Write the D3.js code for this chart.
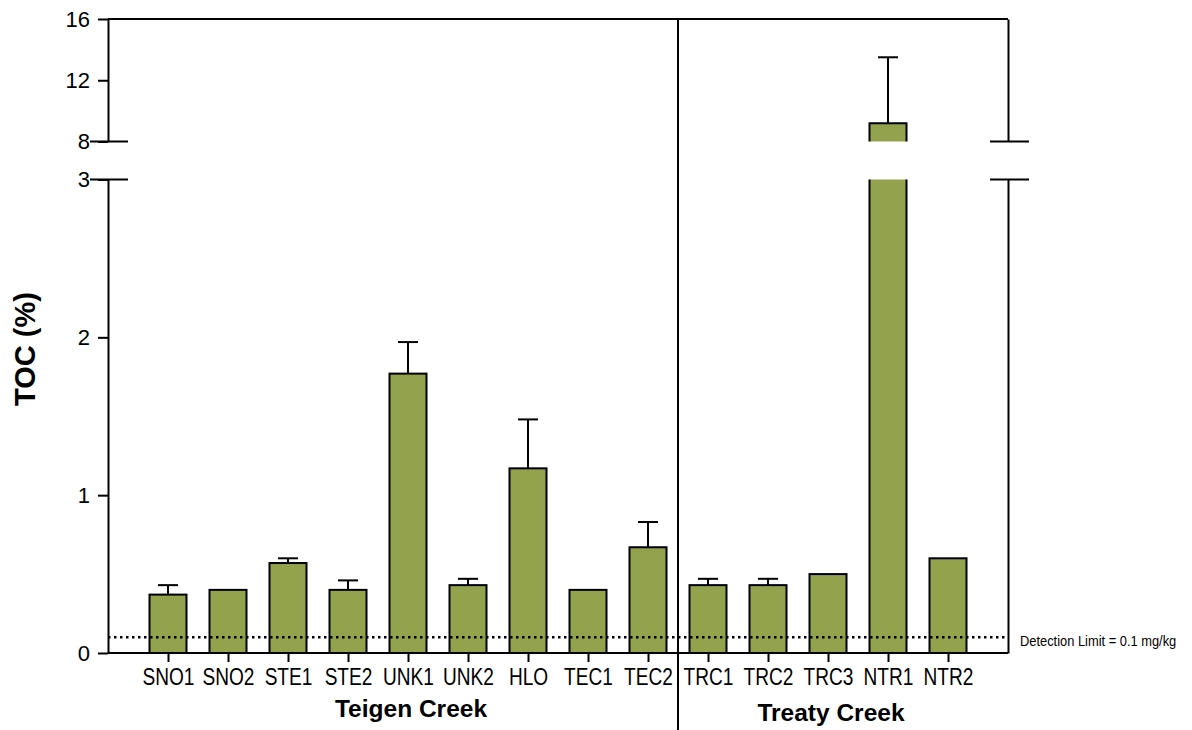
<!DOCTYPE html>
<html>
<head>
<meta charset="utf-8">
<script src="https://cdn.jsdelivr.net/npm/d3@7/dist/d3.min.js"></script>
<style>
  html, body { margin: 0; padding: 0; background: #fff; }
  svg { display: block; }
  text { font-family: "Liberation Sans", Arial, sans-serif; fill: #000; }
</style>
</head>
<body>
<svg id="chart" width="1192" height="730"></svg>
<script>
// Sampling sites, mean TOC (%) and standard deviation
const sites = ["SNO1","SNO2","STE1","STE2","UNK1","UNK2","HLO","TEC1","TEC2","TRC1","TRC2","TRC3","NTR1","NTR2"];
const tocMean = [0.37, 0.40, 0.57, 0.40, 1.77, 0.43, 1.17, 0.40, 0.67, 0.43, 0.43, 0.50, 9.2, 0.60];
const tocSD   = [0.06, 0, 0.03, 0.06, 0.20, 0.04, 0.31, 0, 0.16, 0.04, 0.04, 0, 4.3, 0];

// Watershed groups
const groups = ["Teigen Creek", "Treaty Creek"];
const groupSites = [
  ["SNO1","SNO2","STE1","STE2","UNK1","UNK2","HLO","TEC1","TEC2"],
  ["TRC1","TRC2","TRC3","NTR1","NTR2"]
];

// Broken y axis: lower and upper segments
const lowTicks = [0, 1, 2, 3];
const highTicks = [8, 12, 16];
const detectionLimit = 0.1;
const detectionLabel = "Detection Limit = 0.1 mg/kg";
const yTitle = "TOC (%)";

const svg = d3.select("#chart");
const left = 108, right = 1008;
const barW = 37;
const barColor = "#93a24c";

const x = d3.scalePoint().domain(sites).range([left, right]).padding(1);
const yLow = d3.scaleLinear().domain([0, 3]).range([653, 179.5]);
const yHigh = d3.scaleLinear().domain([8, 16]).range([141.5, 19]);
const breakLow = 3, breakHigh = 8;

const data = sites.map((s, i) => ({ site: s, mean: tocMean[i], sd: tocSD[i] }));

// Bars
const gBars = svg.append("g");
data.forEach(d => {
  const x0 = x(d.site) - barW / 2, x1 = x(d.site) + barW / 2;
  if (d.mean <= breakLow) {
    gBars.append("rect")
      .attr("x", x0).attr("y", yLow(d.mean))
      .attr("width", barW).attr("height", yLow(0) - yLow(d.mean))
      .attr("fill", barColor).attr("stroke", "#000").attr("stroke-width", 2);
  } else {
    // lower part up to the axis break
    gBars.append("rect")
      .attr("x", x0).attr("y", yLow(breakLow))
      .attr("width", barW).attr("height", yLow(0) - yLow(breakLow))
      .attr("fill", barColor);
    gBars.append("path")
      .attr("d", `M${x0},${yLow(breakLow)}V${yLow(0)}H${x1}V${yLow(breakLow)}`)
      .attr("fill", "none").attr("stroke", "#000").attr("stroke-width", 2);
    // upper part above the axis break
    gBars.append("rect")
      .attr("x", x0).attr("y", yHigh(d.mean))
      .attr("width", barW).attr("height", yHigh(breakHigh) - yHigh(d.mean))
      .attr("fill", barColor);
    gBars.append("path")
      .attr("d", `M${x0},${yHigh(breakHigh)}V${yHigh(d.mean)}H${x1}V${yHigh(breakHigh)}`)
      .attr("fill", "none").attr("stroke", "#000").attr("stroke-width", 2);
  }
});

// Error bars (upper only)
const yAny = v => v <= breakLow ? yLow(v) : yHigh(v);
const gErr = svg.append("g").attr("stroke", "#000").attr("stroke-width", 2);
data.filter(d => d.sd > 0).forEach(d => {
  const cx = x(d.site);
  const top = yAny(d.mean + d.sd);
  gErr.append("line").attr("x1", cx).attr("x2", cx).attr("y1", yAny(d.mean)).attr("y2", top);
  gErr.append("line").attr("x1", cx - 10).attr("x2", cx + 10).attr("y1", top).attr("y2", top);
});

// Detection limit
svg.append("line")
  .attr("x1", left).attr("x2", right)
  .attr("y1", yLow(detectionLimit)).attr("y2", yLow(detectionLimit))
  .attr("stroke", "#000").attr("stroke-width", 2.5).attr("stroke-dasharray", "2.5,3.5");
svg.append("text")
  .attr("transform", `translate(1020,${yLow(detectionLimit) + 9}) scale(0.92,1)`)
  .attr("font-size", 14)
  .text(detectionLabel);

// Y axes (left)
function styleAxis(g) {
  g.selectAll("path, line").attr("stroke", "#000").attr("stroke-width", 2);
  g.selectAll("text").attr("font-size", 22).attr("font-family", "Liberation Sans, Arial, sans-serif").attr("fill", "#000");
}
svg.append("g").attr("transform", `translate(${left},0)`)
  .call(d3.axisLeft(yLow).tickValues(lowTicks).tickFormat(d3.format("d")).tickSize(10).tickSizeOuter(0).tickPadding(8))
  .call(styleAxis);
svg.append("g").attr("transform", `translate(${left},0)`)
  .call(d3.axisLeft(yHigh).tickValues(highTicks).tickFormat(d3.format("d")).tickSize(10).tickSizeOuter(0).tickPadding(8))
  .call(styleAxis);

// Right frame segments
svg.append("g").attr("transform", `translate(${right},0)`)
  .call(d3.axisRight(yLow).tickValues([]).tickSizeOuter(0))
  .call(styleAxis);
svg.append("g").attr("transform", `translate(${right},0)`)
  .call(d3.axisRight(yHigh).tickValues([]).tickSizeOuter(0))
  .call(styleAxis);

// Break marks on both sides
const gBreak = svg.append("g").attr("stroke", "#000").attr("stroke-width", 2);
[yLow(breakLow), yHigh(breakHigh)].forEach(yy => {
  gBreak.append("line").attr("x1", left - 18).attr("x2", left + 20).attr("y1", yy).attr("y2", yy);
  gBreak.append("line").attr("x1", right - 18).attr("x2", right + 21).attr("y1", yy).attr("y2", yy);
});

// Top frame line
svg.append("line").attr("x1", left).attr("x2", right)
  .attr("y1", yHigh(16)).attr("y2", yHigh(16))
  .attr("stroke", "#000").attr("stroke-width", 2);

// X axis
const gx = svg.append("g").attr("transform", `translate(0,${yLow(0)})`)
  .call(d3.axisBottom(x).tickSize(9).tickSizeOuter(0));
gx.select(".domain").attr("d", `M${left},0H${right}`);
gx.selectAll("path, line").attr("stroke", "#000").attr("stroke-width", 2);
gx.selectAll("text").remove();
gx.selectAll(".tick").append("text")
  .attr("transform", "translate(0,32) scale(0.83,1)")
  .attr("text-anchor", "middle")
  .attr("font-size", 23)
  .text(d => d);

// Group separator
const sepX = (x(groupSites[0][groupSites[0].length - 1]) + x(groupSites[1][0])) / 2;
svg.append("line").attr("x1", sepX).attr("x2", sepX).attr("y1", yHigh(16)).attr("y2", 730)
  .attr("stroke", "#000").attr("stroke-width", 2);

// Group labels
const groupY = [717, 721];
groups.forEach((gname, i) => {
  const xs = groupSites[i].map(s => x(s));
  svg.append("text")
    .attr("x", (d3.min(xs) + d3.max(xs)) / 2 + 3)
    .attr("y", groupY[i])
    .attr("text-anchor", "middle")
    .attr("font-size", 24.5).attr("font-weight", "bold")
    .text(gname);
});

// Y title
svg.append("text")
  .attr("transform", "translate(35,349) rotate(-90)")
  .attr("text-anchor", "middle")
  .attr("font-size", 29).attr("font-weight", "bold")
  .text(yTitle);
</script>
</body>
</html>
